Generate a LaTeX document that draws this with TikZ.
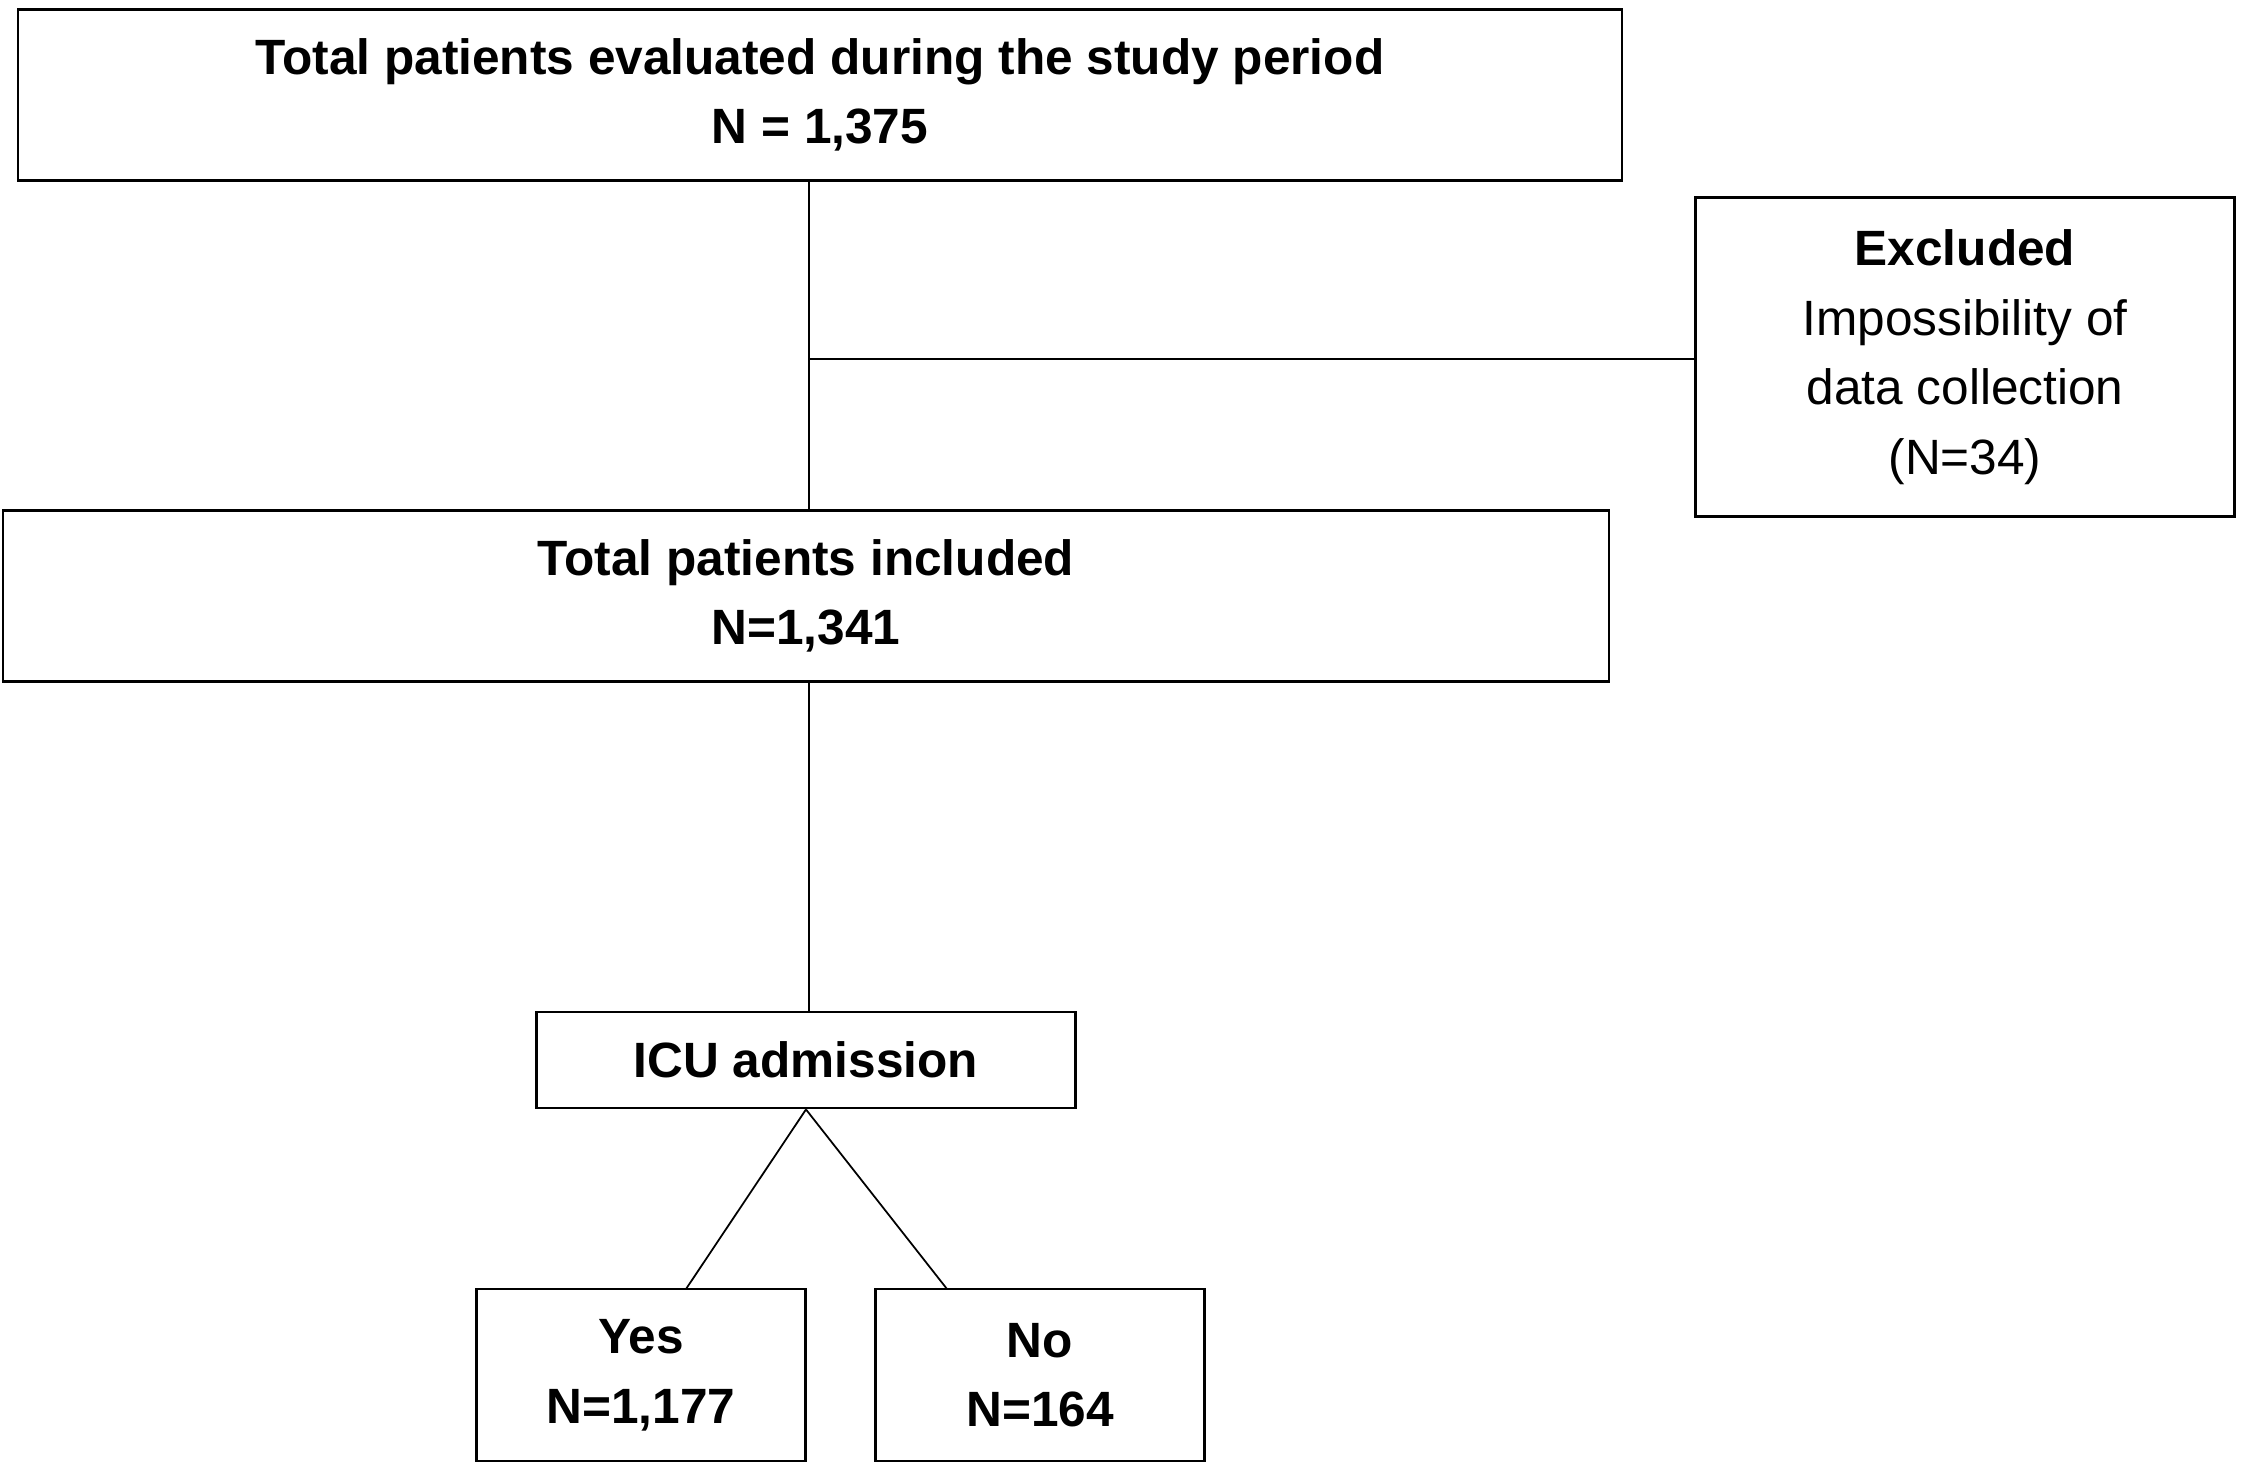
\documentclass[tikz,border=0pt]{standalone}
\usepackage{fontspec}
\setmainfont{Liberation Sans}

\begin{document}
\begin{tikzpicture}[x=0.01cm,y=-0.01cm,line width=0.8pt]
\tikzstyle{box}=[draw,align=center,inner sep=0pt,font=\fontsize{14.1}{19.8}\selectfont];
\tikzstyle{head}=[box,font=\fontsize{14.1}{19.8}\selectfont\bfseries];
\tikzstyle{link}=[line width=0.5pt];
\useasboundingbox (0,0) rectangle (2250,1478);

\node [head,minimum width=16.03cm,minimum height=1.71cm] (total) at (820,95) {Total patients evaluated during the study period\\N = 1,375};
\node [box,minimum width=5.38cm,minimum height=3.19cm] (excl) at (1965,357) {\textbf{Excluded}\\Impossibility of\\data collection\\(N=34)};
\node [head,minimum width=16.05cm,minimum height=1.71cm] (incl) at (806,596) {Total patients included\\N=1,341};
\node [head,minimum width=5.39cm,minimum height=0.96cm] (icu) at (806,1060) {ICU admission};
\node [head,minimum width=3.29cm,minimum height=1.72cm] (yes) at (641,1375) {Yes\\N=1,177};
\node [head,minimum width=3.29cm,minimum height=1.72cm] (no) at (1040,1375) {No\\N=164};

\coordinate (split) at (809,359);
\coordinate (yesend) at (686,1289);
\coordinate (noend) at (947,1289);
\draw [link] (split |- total.south) -- (split |- incl.north);
\draw [link] (split) -- (split -| excl.west);
\draw [link] (split |- incl.south) -- (split |- icu.north);
\draw [link] (icu.south) -- (yesend);
\draw [link] (icu.south) -- (noend);
\end{tikzpicture}
\end{document}
